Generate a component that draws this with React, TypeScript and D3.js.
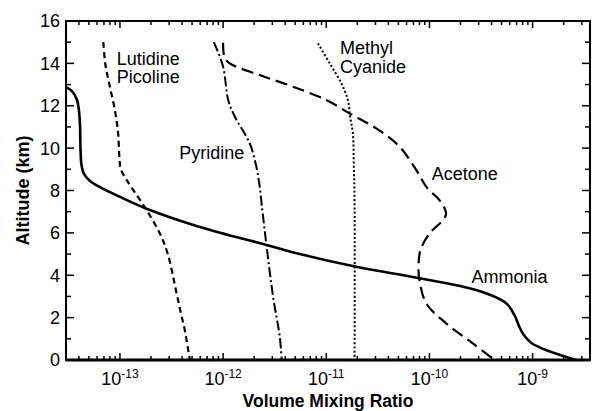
import React, { useRef, useEffect } from "react"
import * as d3 from "d3"

// altitude (km) and volume mixing ratio
const ammoniaAlt = [12.88, 12.69, 12.28, 11.8, 11.09, 9.91, 9.2, 8.78, 8.45, 8.16, 7.7, 7.08, 6.28, 5.43, 5.0, 4.4, 3.86, 3.3, 2.68, 2.12, 1.56, 1.2, 0.8, 0.5, 0.25, 0]
const ammoniaVmr = [3.0e-14, 3.43e-14, 3.83e-14, 4.0e-14, 4.1e-14, 4.15e-14, 4.24e-14, 4.48e-14, 5.12e-14, 6.4e-14, 1.0e-13, 1.95e-13, 5.94e-13, 2.63e-12, 5.53e-12, 1.95e-11, 8.0e-11, 2.84e-10, 5.54e-10, 6.67e-10, 7.45e-10, 8.15e-10, 9.73e-10, 1.3e-9, 1.82e-9, 2.65e-9]

const lutidineAlt = [15.0, 14.0, 13.0, 11.8, 10.7, 9.5, 9.0, 8.5, 7.9, 7.08, 5.97, 5.0, 3.15, 2.2, 1.42, 0]
const lutidineVmr = [6.9e-14, 7.2e-14, 7.9e-14, 8.93e-14, 9.6e-14, 9.9e-14, 1.02e-13, 1.16e-13, 1.4e-13, 1.81e-13, 2.44e-13, 2.91e-13, 3.54e-13, 3.9e-13, 4.25e-13, 4.76e-13]

const pyridineAlt = [15.0, 13.84, 12.27, 11.48, 10.23, 9.12, 8.2, 7.3, 5.43, 2.99, 1.1, 0]
const pyridineVmr = [8.13e-13, 1.0e-12, 1.12e-12, 1.3e-12, 1.81e-12, 2.1e-12, 2.26e-12, 2.37e-12, 2.63e-12, 3.05e-12, 3.54e-12, 3.7e-12]

const cyanideAlt = [14.94, 14.0, 13.06, 12.27, 11.5, 10.69, 9.12, 7.5, 0]
const cyanideVmr = [8.3e-12, 1.08e-11, 1.4e-11, 1.62e-11, 1.7e-11, 1.81e-11, 1.85e-11, 1.88e-11, 1.88e-11]

const acetoneAlt = [14.97, 14.3, 14.0, 13.45, 12.9, 12.27, 11.64, 10.93, 10.07, 8.97, 8.1, 7.55, 6.92, 6.6, 5.97, 5.2, 4.5, 3.78, 2.68, 1.73, 0.79, 0]
const acetoneVmr = [1.0e-12, 1.03e-12, 1.16e-12, 2.26e-12, 4.75e-12, 1.0e-11, 1.68e-11, 3.05e-11, 5.13e-11, 7.44e-11, 9.57e-11, 1.25e-10, 1.45e-10, 1.35e-10, 1.0e-10, 8.2e-11, 7.84e-11, 8.0e-11, 9.3e-11, 1.45e-10, 2.63e-10, 4.27e-10]

const yTicks = [0, 2, 4, 6, 8, 10, 12, 14, 16]
const xDecades = [-13, -12, -11, -10, -9]

const FONT = "'Liberation Sans', Arial, Helvetica, sans-serif"

const App = () => {
    const element = useRef<SVGSVGElement>(null)

    useEffect(() => {
        const width = 594, height = 411
        const margin = { top: 21, right: 4, bottom: 51, left: 66 }

        const svg = d3.select(element.current)
        svg.selectAll("*").remove()

        const x = d3.scaleLog()
            .domain([3e-14, 3.6e-9])
            .range([margin.left, width - margin.right])

        const y = d3.scaleLinear()
            .domain([0, 16])
            .range([height - margin.bottom, margin.top])

        const [x0, x1] = x.range()
        const [y0, y1] = y.range()

        // ticks, pointing inward
        const g = svg.append("g").attr("stroke", "#000").attr("stroke-width", 1.5)

        const minor: { v: number, major: boolean }[] = []
        for (let e = -14; e <= -9; e++) {
            for (let k = 1; k <= 9; k++) {
                const v = k * Math.pow(10, e)
                if (v >= 3e-14 && v <= 3.6e-9) minor.push({ v, major: k === 1 })
            }
        }
        minor.forEach(t => {
            const len = t.major ? 7 : 4
            g.append("line")
                .attr("x1", x(t.v)).attr("x2", x(t.v))
                .attr("y1", y0).attr("y2", y0 - len)
            g.append("line")
                .attr("x1", x(t.v)).attr("x2", x(t.v))
                .attr("y1", y1).attr("y2", y1 + len)
        })

        d3.range(0, 17).forEach(v => {
            const len = v % 2 === 0 ? 8 : 5
            g.append("line")
                .attr("x1", x0).attr("x2", x0 + len)
                .attr("y1", y(v)).attr("y2", y(v))
            g.append("line")
                .attr("x1", x1).attr("x2", x1 - len)
                .attr("y1", y(v)).attr("y2", y(v))
        })

        // frame
        svg.append("rect")
            .attr("x", x0).attr("y", y1)
            .attr("width", x1 - x0).attr("height", y0 - y1)
            .attr("fill", "none")
            .attr("stroke", "#000")
            .attr("stroke-width", 2)
        svg.append("line")
            .attr("x1", x0).attr("x2", x1)
            .attr("y1", y0).attr("y2", y0)
            .attr("stroke", "#000")
            .attr("stroke-width", 3)

        // y tick labels
        svg.append("g")
            .selectAll("text")
            .data(yTicks)
            .enter()
                .append("text")
                .attr("x", x0 - 6)
                .attr("y", d => y(d))
                .attr("dy", "0.36em")
                .attr("text-anchor", "end")
                .attr("font-family", FONT)
                .attr("font-size", 18)
                .text(d => d)

        // x tick labels 10^n
        const xl = svg.append("g")
            .selectAll("text")
            .data(xDecades)
            .enter()
                .append("text")
                .attr("x", d => x(Math.pow(10, d)))
                .attr("y", y0 + 25)
                .attr("text-anchor", "middle")
                .attr("font-family", FONT)
                .attr("font-size", 18)
        xl.append("tspan").text("10")
        xl.append("tspan")
            .attr("dy", -7)
            .attr("font-size", 12)
            .text(d => "-" + Math.abs(d))

        // axis titles
        svg.append("text")
            .attr("x", (x0 + x1) / 2)
            .attr("y", height - 4)
            .attr("text-anchor", "middle")
            .attr("font-family", FONT)
            .attr("font-weight", "bold")
            .attr("font-size", 17.5)
            .text("Volume Mixing Ratio")

        svg.append("text")
            .attr("transform", `translate(29,${(y0 + y1) / 2}) rotate(-90)`)
            .attr("text-anchor", "middle")
            .attr("font-family", FONT)
            .attr("font-weight", "bold")
            .attr("font-size", 18)
            .text("Altitude (km)")

        // profiles
        const series = [
            { alt: ammoniaAlt, vmr: ammoniaVmr, dash: null, w: 2.6 },
            { alt: lutidineAlt, vmr: lutidineVmr, dash: "6,4", w: 2.2 },
            { alt: pyridineAlt, vmr: pyridineVmr, dash: "10,3,2,3", w: 2 },
            { alt: cyanideAlt, vmr: cyanideVmr, dash: "2,2.2", w: 2 },
            { alt: acetoneAlt, vmr: acetoneVmr, dash: "12,6", w: 2.2 },
        ]

        const line = d3.line<number[]>()
            .x(d => d[0])
            .y(d => d[1])
            .curve(d3.curveCatmullRom.alpha(0.5))

        series.forEach(s => {
            const pts = s.alt.map((a, i) => [x(s.vmr[i]), y(a)])
            svg.append("path")
                .attr("d", line(pts))
                .attr("fill", "none")
                .attr("stroke", "#000")
                .attr("stroke-width", s.w)
                .attr("stroke-dasharray", s.dash)
        })

        // curve labels
        const labels = [
            { t: "Lutidine", v: 9.3e-14, a: 14.25 },
            { t: "Picoline", v: 9.3e-14, a: 13.38 },
            { t: "Pyridine", v: 3.76e-13, a: 9.77 },
            { t: "Methyl", v: 1.36e-11, a: 14.77 },
            { t: "Cyanide", v: 1.36e-11, a: 13.83 },
            { t: "Acetone", v: 1.05e-10, a: 8.78 },
            { t: "Ammonia", v: 2.56e-10, a: 3.93 },
        ]
        svg.append("g")
            .selectAll("text")
            .data(labels)
            .enter()
                .append("text")
                .attr("x", d => x(d.v))
                .attr("y", d => y(d.a))
                .attr("dy", "0.36em")
                .attr("font-family", FONT)
                .attr("font-size", 18)
                .text(d => d.t)
    }, [])

    return (
        <svg
            ref={element}
            width={594}
            height={411}
            style={{ position: "absolute", left: 0, top: 0, background: "#fff" }}
        />
    )
}

export default App
